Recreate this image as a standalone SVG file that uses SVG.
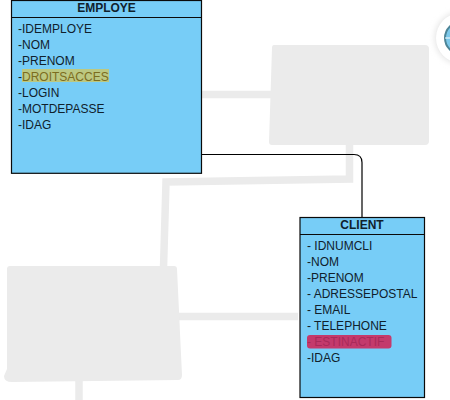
<svg xmlns="http://www.w3.org/2000/svg" width="450" height="400" viewBox="0 0 450 400">
<defs>
<filter id="soft" x="-50%" y="-50%" width="200%" height="200%"><feGaussianBlur stdDeviation="3"/></filter>
<style>
.box{fill:#77cdf7;stroke:#0a0a0a;stroke-width:1.2}
.t{font-family:"Liberation Sans",Arial,sans-serif;font-size:12px;fill:#10212c}
.h{font-family:"Liberation Sans",Arial,sans-serif;font-size:12px;font-weight:bold;fill:#10212c;text-anchor:middle}
.smear{fill:#ebebeb}
.old{fill:none;stroke:#ebebeb;stroke-width:7.500}
.wire{fill:none;stroke:#000;stroke-width:1.2}
</style>
</defs>
<rect width="450" height="400" fill="#fff"/>
<g id="erased">
<path class="old" d="M201 94.500H273"/>
<path class="old" d="M349.500 145V179L166 182L163.500 268"/>
<path class="old" d="M178 316.500H298"/>
<path class="old" d="M79 380V400"/>
<path class="smear" d="M274 45H425Q429 45 429 49V141Q429 145 425 145H272Q269 145 269 142L272 48Q272 45 274 45Z"/>
<path class="smear" d="M10 266H174Q177 266 177 269L182 375Q182 380 178 380L12 382Q4 382 4 376L7 369V269Q7 266 10 266Z"/>
</g>
<g id="badge">
<circle cx="461" cy="38" r="26" fill="#e2e2e2" filter="url(#soft)"/>
<circle cx="461" cy="38" r="25" fill="#fff"/>
<circle cx="461" cy="38" r="16" fill="#7cc8ea" stroke="#4d8496" stroke-width="2"/>
<path d="M445 38H450M453 24V52" fill="none" stroke="#fff" stroke-width="1"/>
</g>
<g id="connectors">
<path class="wire" d="M201 154.500H354Q362 154.500 362 162.500V217"/>
</g>
<g id="employe">
<rect class="box" x="11.500" y="0.500" width="190" height="172.800"/>
<path d="M11.500 17.500H201.500" fill="none" stroke="#0a0a0a" stroke-width="1.200"/>
<text class="h" x="106.500" y="12">EMPLOYE</text>
<rect x="22" y="69" width="87" height="13" fill="#c3c873" opacity=".9"/>
<text class="t" x="18" y="33">-IDEMPLOYE</text>
<text class="t" x="18" y="49">-NOM</text>
<text class="t" x="18" y="65">-PRENOM</text>
<text class="t" x="18" y="81">-<tspan fill="#7c6d1e">DROITSACCES</tspan></text>
<text class="t" x="18" y="97">-LOGIN</text>
<text class="t" x="18" y="113">-MOTDEPASSE</text>
<text class="t" x="18" y="129">-IDAG</text>
</g>
<g id="client">
<rect class="box" x="300" y="217.500" width="124.500" height="180"/>
<path d="M300 234.500H424.500" fill="none" stroke="#0a0a0a" stroke-width="1.200"/>
<text class="h" x="362" y="229">CLIENT</text>
<rect x="307" y="335" width="84.500" height="13.500" rx="3" fill="#c43a6c"/>
<text class="t" x="307" y="250">- IDNUMCLI</text>
<text class="t" x="307" y="266">-NOM</text>
<text class="t" x="307" y="282">-PRENOM</text>
<text class="t" x="307" y="298">- ADRESSEPOSTAL</text>
<text class="t" x="307" y="314">- EMAIL</text>
<text class="t" x="307" y="330">- TELEPHONE</text>
<text class="t" x="307" y="346" style="fill:#a92a5a">- ESTINACTIF</text>
<text class="t" x="307" y="362">-IDAG</text>
</g>
</svg>
